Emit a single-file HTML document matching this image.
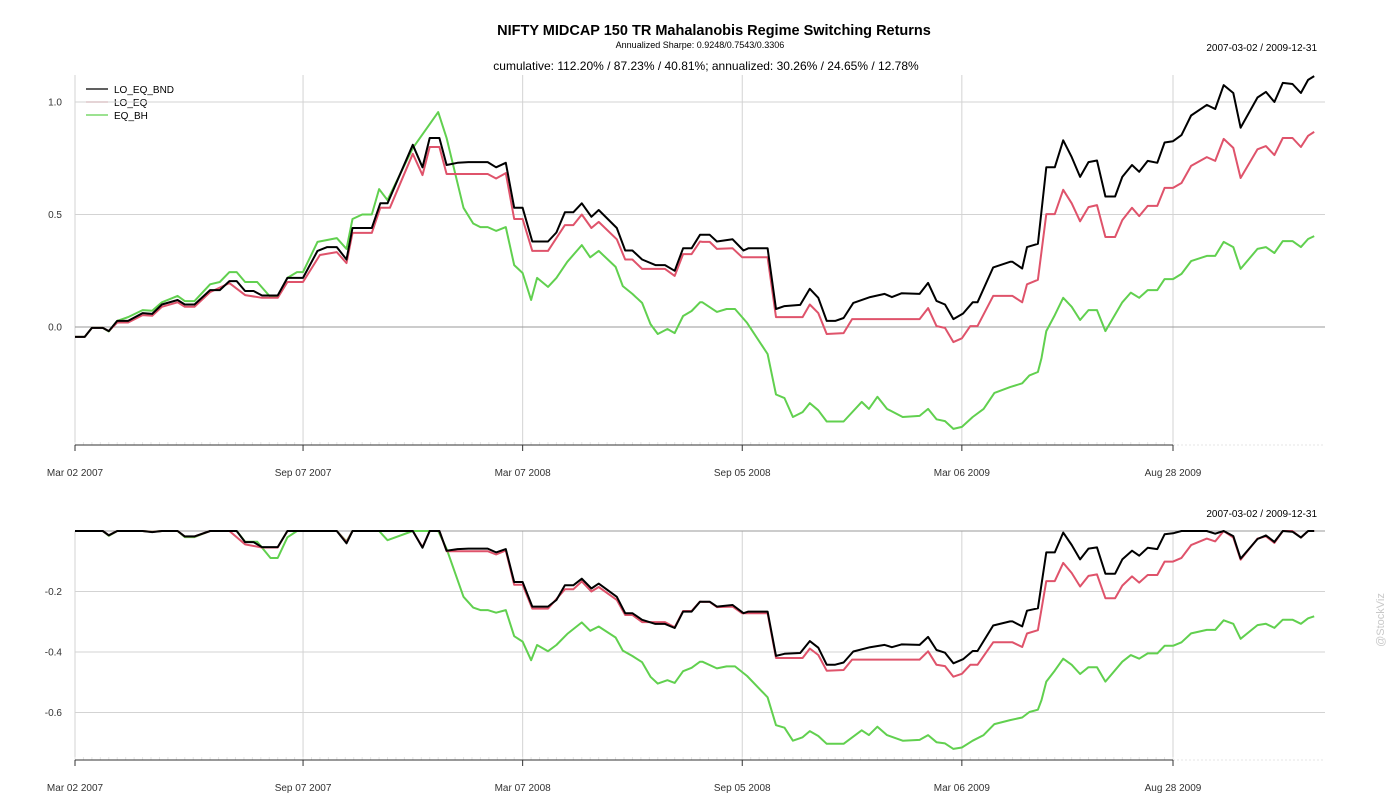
<!DOCTYPE html>
<html><head><meta charset="utf-8"><style>
body{margin:0;background:#fff;}
svg{display:block;font-family:"Liberation Sans",Arial,sans-serif;}
</style></head><body>
<svg id="chart" width="1400" height="800">
<text x="714" y="35" text-anchor="middle" font-size="14.5" font-weight="bold" fill="#000">NIFTY MIDCAP 150 TR Mahalanobis Regime Switching Returns</text>
<text x="700" y="48" text-anchor="middle" font-size="9" fill="#000">Annualized Sharpe: 0.9248/0.7543/0.3306</text>
<text x="706" y="70" text-anchor="middle" font-size="12" fill="#000">cumulative: 112.20% / 87.23% / 40.81%; annualized: 30.26% / 24.65% / 12.78%</text>
<text x="1317" y="51" text-anchor="end" font-size="10" fill="#000">2007-03-02 / 2009-12-31</text>
<text x="1317" y="517" text-anchor="end" font-size="10" fill="#000">2007-03-02 / 2009-12-31</text>
<text x="1384" y="620" text-anchor="middle" font-size="11" fill="#c8c8c8" transform="rotate(-90 1384 620)">@StockViz</text>
<g id="legend">
<line x1="86" y1="89" x2="108" y2="89" stroke="#000" stroke-width="1.2"/><text x="114" y="93" font-size="10">LO_EQ_BND</text>
<line x1="86" y1="102" x2="108" y2="102" stroke="#DF536B" stroke-width="1.2"/><text x="114" y="106" font-size="10">LO_EQ</text>
<line x1="86" y1="115" x2="108" y2="115" stroke="#61D04F" stroke-width="1.2"/><text x="114" y="119" font-size="10">EQ_BH</text>
</g>
</svg>
<script>
// days since 2007-03-02
const tickDays=[0,189,371,553,735,910];
const tickLabels=["Mar 02 2007","Sep 07 2007","Mar 07 2008","Sep 05 2008","Mar 06 2009","Aug 28 2009"];
const topTicks=[0,0.5,1.0];
const topTickLabels=["0.0","0.5","1.0"];
const ddTicks=[-0.2,-0.4,-0.6];
const ddTickLabels=["-0.2","-0.4","-0.6"];
const seriesNames=["LO_EQ_BND","LO_EQ","EQ_BH"];
const bndDays=[0,8,14,23,28,35,44,56,64,72,85,91,99,112,120,128,134,141,148,155,168,176,189,201,209,217,225,230,246,253,259,280,288,294,302,308,317,326,342,349,357,364,371,379,392,399,406,413,420,428,434,449,456,462,470,481,489,497,504,511,518,520,526,532,545,554,558,574,581,588,601,609,616,623,630,637,645,659,671,677,685,700,707,714,721,728,736,744,748,761,775,777,785,789,798,805,812,819,826,833,840,847,854,862,868,876,882,889,897,903,910,917,925,938,945,952,960,966,980,987,994,1001,1009,1016,1022,1027];
const bndVals=[-0.044,-0.044,-0.004,-0.004,-0.018,0.027,0.027,0.062,0.058,0.10,0.12,0.10,0.10,0.164,0.164,0.204,0.204,0.16,0.16,0.14,0.14,0.218,0.218,0.338,0.355,0.355,0.30,0.44,0.44,0.55,0.55,0.81,0.71,0.84,0.84,0.72,0.73,0.733,0.733,0.71,0.73,0.53,0.53,0.38,0.38,0.42,0.51,0.51,0.55,0.49,0.52,0.44,0.34,0.34,0.30,0.275,0.275,0.25,0.35,0.35,0.41,0.41,0.41,0.38,0.39,0.34,0.35,0.35,0.08,0.093,0.098,0.17,0.13,0.027,0.027,0.04,0.107,0.133,0.147,0.133,0.15,0.147,0.196,0.116,0.10,0.035,0.06,0.11,0.11,0.265,0.29,0.29,0.26,0.355,0.37,0.71,0.71,0.83,0.755,0.667,0.733,0.74,0.58,0.58,0.667,0.72,0.69,0.738,0.73,0.82,0.826,0.853,0.94,0.987,0.969,1.075,1.04,0.886,1.02,1.045,1.0,1.085,1.08,1.04,1.098,1.115];
const eqDays=[0,8,14,23,28,35,44,56,64,72,85,91,99,112,128,141,155,168,176,189,203,217,225,230,246,253,259,261,280,288,294,302,308,342,349,357,364,371,379,392,406,413,420,428,434,449,456,462,470,489,497,504,511,518,520,526,532,545,553,574,581,603,609,616,623,637,644,700,707,714,721,728,735,742,748,761,775,777,785,789,798,805,812,819,826,833,840,847,854,862,868,876,882,889,897,903,910,917,925,938,945,952,960,966,980,987,994,1001,1009,1016,1022,1027];
const eqVals=[-0.044,-0.044,-0.004,-0.004,-0.018,0.02,0.02,0.053,0.05,0.09,0.11,0.09,0.09,0.155,0.195,0.142,0.13,0.13,0.20,0.20,0.32,0.333,0.284,0.418,0.418,0.53,0.53,0.53,0.77,0.675,0.80,0.80,0.68,0.68,0.66,0.684,0.48,0.48,0.338,0.338,0.453,0.453,0.50,0.44,0.467,0.39,0.30,0.30,0.258,0.258,0.227,0.324,0.324,0.38,0.378,0.378,0.347,0.35,0.31,0.31,0.044,0.044,0.10,0.062,-0.031,-0.027,0.035,0.035,0.084,0.004,-0.004,-0.067,-0.05,0.004,0.004,0.138,0.138,0.138,0.11,0.19,0.21,0.502,0.502,0.61,0.55,0.47,0.533,0.542,0.40,0.40,0.475,0.53,0.493,0.538,0.538,0.618,0.618,0.64,0.716,0.755,0.738,0.836,0.796,0.662,0.79,0.804,0.764,0.84,0.84,0.80,0.85,0.867];
const bhDays=[0,8,14,23,28,35,44,56,64,72,85,91,99,112,120,128,134,141,151,162,168,176,184,189,201,217,225,230,238,246,252,259,280,301,308,322,330,336,342,349,357,364,371,378,383,392,399,408,420,427,434,448,454,462,470,477,483,491,497,504,511,518,520,532,540,547,557,574,581,588,595,603,609,616,623,637,652,658,665,673,686,700,707,714,721,728,735,744,753,762,775,785,791,798,801,805,812,819,826,833,840,847,854,868,875,882,889,897,903,910,917,925,938,945,952,960,966,980,987,994,1001,1009,1016,1022,1027];
const bhVals=[-0.044,-0.044,-0.004,-0.004,-0.02,0.027,0.044,0.075,0.072,0.11,0.138,0.115,0.115,0.19,0.20,0.244,0.244,0.20,0.20,0.133,0.133,0.218,0.244,0.244,0.378,0.395,0.347,0.48,0.50,0.50,0.613,0.564,0.795,0.955,0.84,0.53,0.46,0.444,0.444,0.427,0.444,0.275,0.24,0.12,0.218,0.178,0.218,0.29,0.364,0.31,0.338,0.267,0.182,0.147,0.107,0.013,-0.031,-0.009,-0.027,0.049,0.071,0.11,0.11,0.067,0.08,0.08,0.018,-0.12,-0.30,-0.316,-0.40,-0.378,-0.338,-0.37,-0.42,-0.42,-0.333,-0.364,-0.31,-0.364,-0.40,-0.395,-0.364,-0.41,-0.418,-0.453,-0.444,-0.40,-0.364,-0.293,-0.267,-0.25,-0.215,-0.2,-0.138,-0.018,0.053,0.13,0.09,0.031,0.075,0.075,-0.018,0.11,0.153,0.13,0.164,0.164,0.213,0.213,0.236,0.293,0.316,0.316,0.378,0.355,0.258,0.347,0.355,0.329,0.382,0.382,0.355,0.391,0.404];

const NS='http://www.w3.org/2000/svg';
const svg=document.getElementById('chart');
const X0=75,X1=1325;
function xs(d){return X0+d*1.2066;}
function yTop(v){return 327-v*225;}
function yDd(v){return 531-v*302.5;}
function mk(tag,attrs){const e=document.createElementNS(NS,tag);for(const k in attrs)e.setAttribute(k,attrs[k]);svg.appendChild(e);return e;}
function drawdown(vals){let mx=-1e9;return vals.map(v=>{const w=1+v;if(w>mx)mx=w;return w/mx-1;});}

function panel(yf,top,axisY,ticks,labels,name){
  tickDays.forEach((d,i)=>{
    const g=mk('line',{x1:xs(d),x2:xs(d),y1:top,y2:axisY,stroke:'#d3d3d3','stroke-width':1});
    
    
  });
  ticks.forEach((t,i)=>{
    const g=mk('line',{x1:X0,x2:X1,y1:yf(t),y2:yf(t),stroke:'#d3d3d3','stroke-width':1});
    
    
    const tx=mk('text',{x:62,y:yf(t)+3.5,'text-anchor':'end','font-size':10,fill:'#333'});
    tx.textContent=labels[i];
    
    
  });
  for(let d=0;d<=tickDays[tickDays.length-1];d+=7){
    const m=mk('line',{x1:xs(d),x2:xs(d),y1:axisY-3,y2:axisY,stroke:'#e6e6e6','stroke-width':1});
    
    
  }
  const ax=mk('line',{x1:X0,x2:xs(tickDays[tickDays.length-1]),y1:axisY,y2:axisY,stroke:'#333','stroke-width':1});
  
  
  const ax2=mk('line',{x1:xs(tickDays[tickDays.length-1]),x2:X1,y1:axisY,y2:axisY,stroke:'#e4e4e4','stroke-width':1,'stroke-dasharray':'2,2'});
  
  
  tickDays.forEach((d,i)=>{
    const t=mk('line',{x1:xs(d),x2:xs(d),y1:axisY,y2:axisY+6,stroke:'#333','stroke-width':1});
    
    
    const tx=mk('text',{x:xs(d),y:axisY+31,'text-anchor':'middle','font-size':10,fill:'#333'});
    tx.textContent=tickLabels[i];
    
    
  });
}
panel(yTop,75,445,topTicks,topTickLabels,'top');
const z=mk('line',{x1:X0,x2:X1,y1:yTop(0),y2:yTop(0),stroke:'#999','stroke-width':1});


panel(yDd,531,760,ddTicks,ddTickLabels,'bottom');
const z2=mk('line',{x1:X0,x2:X1,y1:yDd(0),y2:yDd(0),stroke:'#999','stroke-width':1});



function line(days,vals,yf,color,name){
  const pts=days.map((d,i)=>xs(d).toFixed(1)+','+yf(vals[i]).toFixed(1)).join(' ');
  const p=mk('polyline',{points:pts,fill:'none',stroke:color,'stroke-width':2,'stroke-linejoin':'round'});
  
  
}
line(bhDays,bhVals,yTop,'#61D04F','eq-bh-cumulative-line');
line(eqDays,eqVals,yTop,'#DF536B','lo-eq-cumulative-line');
line(bndDays,bndVals,yTop,'#000','lo-eq-bnd-cumulative-line');
line(bhDays,drawdown(bhVals),yDd,'#61D04F','eq-bh-drawdown-line');
line(eqDays,drawdown(eqVals),yDd,'#DF536B','lo-eq-drawdown-line');
line(bndDays,drawdown(bndVals),yDd,'#000','lo-eq-bnd-drawdown-line');
</script>
</body></html>
